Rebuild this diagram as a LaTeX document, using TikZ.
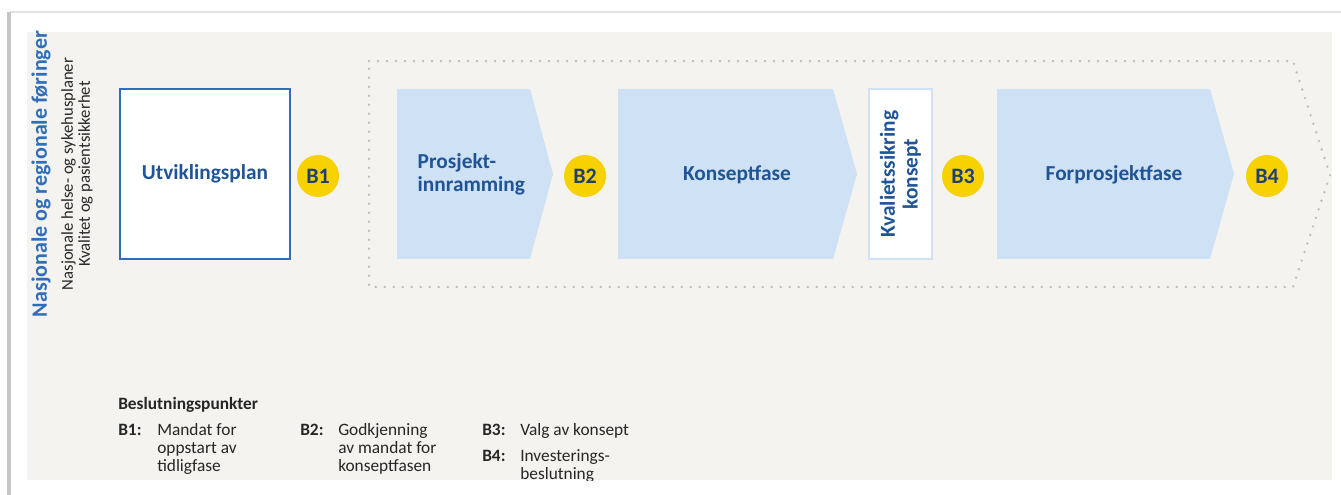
\documentclass[tikz,border=0pt]{standalone}
\usepackage{fontspec}
\setmainfont{Carlito}
\usepackage{tikz}
\usetikzlibrary{positioning}
\definecolor{panel}{HTML}{F4F3EF}
\definecolor{phasefill}{HTML}{CFE1F5}
\definecolor{frameblue}{HTML}{2F6EBA}
\definecolor{textblue}{HTML}{1F5496}
\definecolor{navy}{HTML}{1F3F6E}
\definecolor{gold}{HTML}{F7D100}
\definecolor{dotgray}{HTML}{BDBDBD}
\definecolor{ink}{HTML}{262626}

\begin{document}
\begin{tikzpicture}[
    x=0.75pt, y=-0.75pt,
    phase/.style={fill=phasefill},
    phaselabel/.style={font=\fontsize{16}{17}\selectfont\bfseries, text=textblue, align=left},
    bp/.style={circle, fill=gold, minimum size=31.5pt, inner sep=0pt, font=\fontsize{16.5}{17}\selectfont\bfseries, text=navy},
    legkey/.style={anchor=base west, inner sep=0pt, font=\fontsize{13}{13.5}\selectfont\bfseries, text=ink},
    legtxt/.style={anchor=base west, inner sep=0pt, font=\fontsize{13}{13.5}\selectfont, text=ink, align=left}
]
\useasboundingbox (0,0) rectangle (1341,495);
% frame and panel
\fill[white] (0,0) rectangle (1341,495);
\draw[gray!22, line width=1.5pt] (10,12) -- (1341,12);
\draw[gray!45, line width=2.5pt] (9,495) -- (9,12);
\fill[panel] (27,32) rectangle (1332,480);

% side texts
\node[rotate=90, font=\fontsize{16.5}{17}\selectfont\bfseries, text=frameblue] (title) at (41,174) {Nasjonale og regionale føringer};
\node[rotate=90, font=\fontsize{12.5}{12.75}\selectfont, text=ink, align=center] (guides) at (77,174) {Nasjonale helse- og sykehusplaner\\Kvalitet og pasientsikkerhet};

% Utviklingsplan
\node[draw=frameblue, line width=1.5pt, fill=white, minimum width=127.5pt, minimum height=127.5pt, phaselabel] (plan) at (205,174) {Utviklingsplan};
\node[bp] (b1) at (318,176) {B1};

% dotted frame round the project phases
\draw[dotgray, line width=2pt, line cap=round, dash pattern=on 0pt off 6.75pt]
    (369,61) -- (1293,61) -- (1330,175) -- (1293,287) -- (369,287) -- cycle;

% phases
\fill[phase] (397,89) -- (530,89) -- (553,174) -- (530,259) -- (397,259) -- cycle;
\node[phaselabel, anchor=west] (ramme) at (413,174) {Prosjekt-\\innramming};
\node[bp] (b2) at (585,176) {B2};

\fill[phase] (618,89) -- (833,89) -- (857,174) -- (833,259) -- (618,259) -- cycle;
\node[phaselabel] (konsept) at (737,175) {Konseptfase};

\node[draw=phasefill, line width=1.2pt, fill=white, minimum width=47pt, minimum height=127.5pt] (ks) at (900.5,174) {};
\node[phaselabel, rotate=90, align=center] at (ks.center) {Kvalietssikring\\konsept};
\node[bp] (b3) at (963,176) {B3};

\fill[phase] (997,89) -- (1210,89) -- (1234,174) -- (1210,259) -- (997,259) -- cycle;
\node[phaselabel] (forpro) at (1114,175) {Forprosjektfase};
\node[bp] (b4) at (1267,176) {B4};

% legend (multi-line texts sit on their last baseline)
\begin{scope}
\clip (27,32) rectangle (1332,480);
\node[legkey] (leg) at (118,409) {Beslutningspunkter};
\node[legkey] (k1) at (118,435) {B1:};
\node[legtxt] (t1) at (157,471) {Mandat for\\oppstart av\\tidligfase};
\node[legkey] (k2) at (300,435) {B2:};
\node[legtxt] (t2) at (338,471) {Godkjenning\\av mandat for\\konseptfasen};
\node[legkey] (k3) at (482,435) {B3:};
\node[legtxt] (t3) at (520,435) {Valg av konsept};
\node[legkey] (k4) at (482,461) {B4:};
\node[legtxt] (t4) at (520,479) {Investerings-\\beslutning};
\end{scope}
\end{tikzpicture}
\end{document}
